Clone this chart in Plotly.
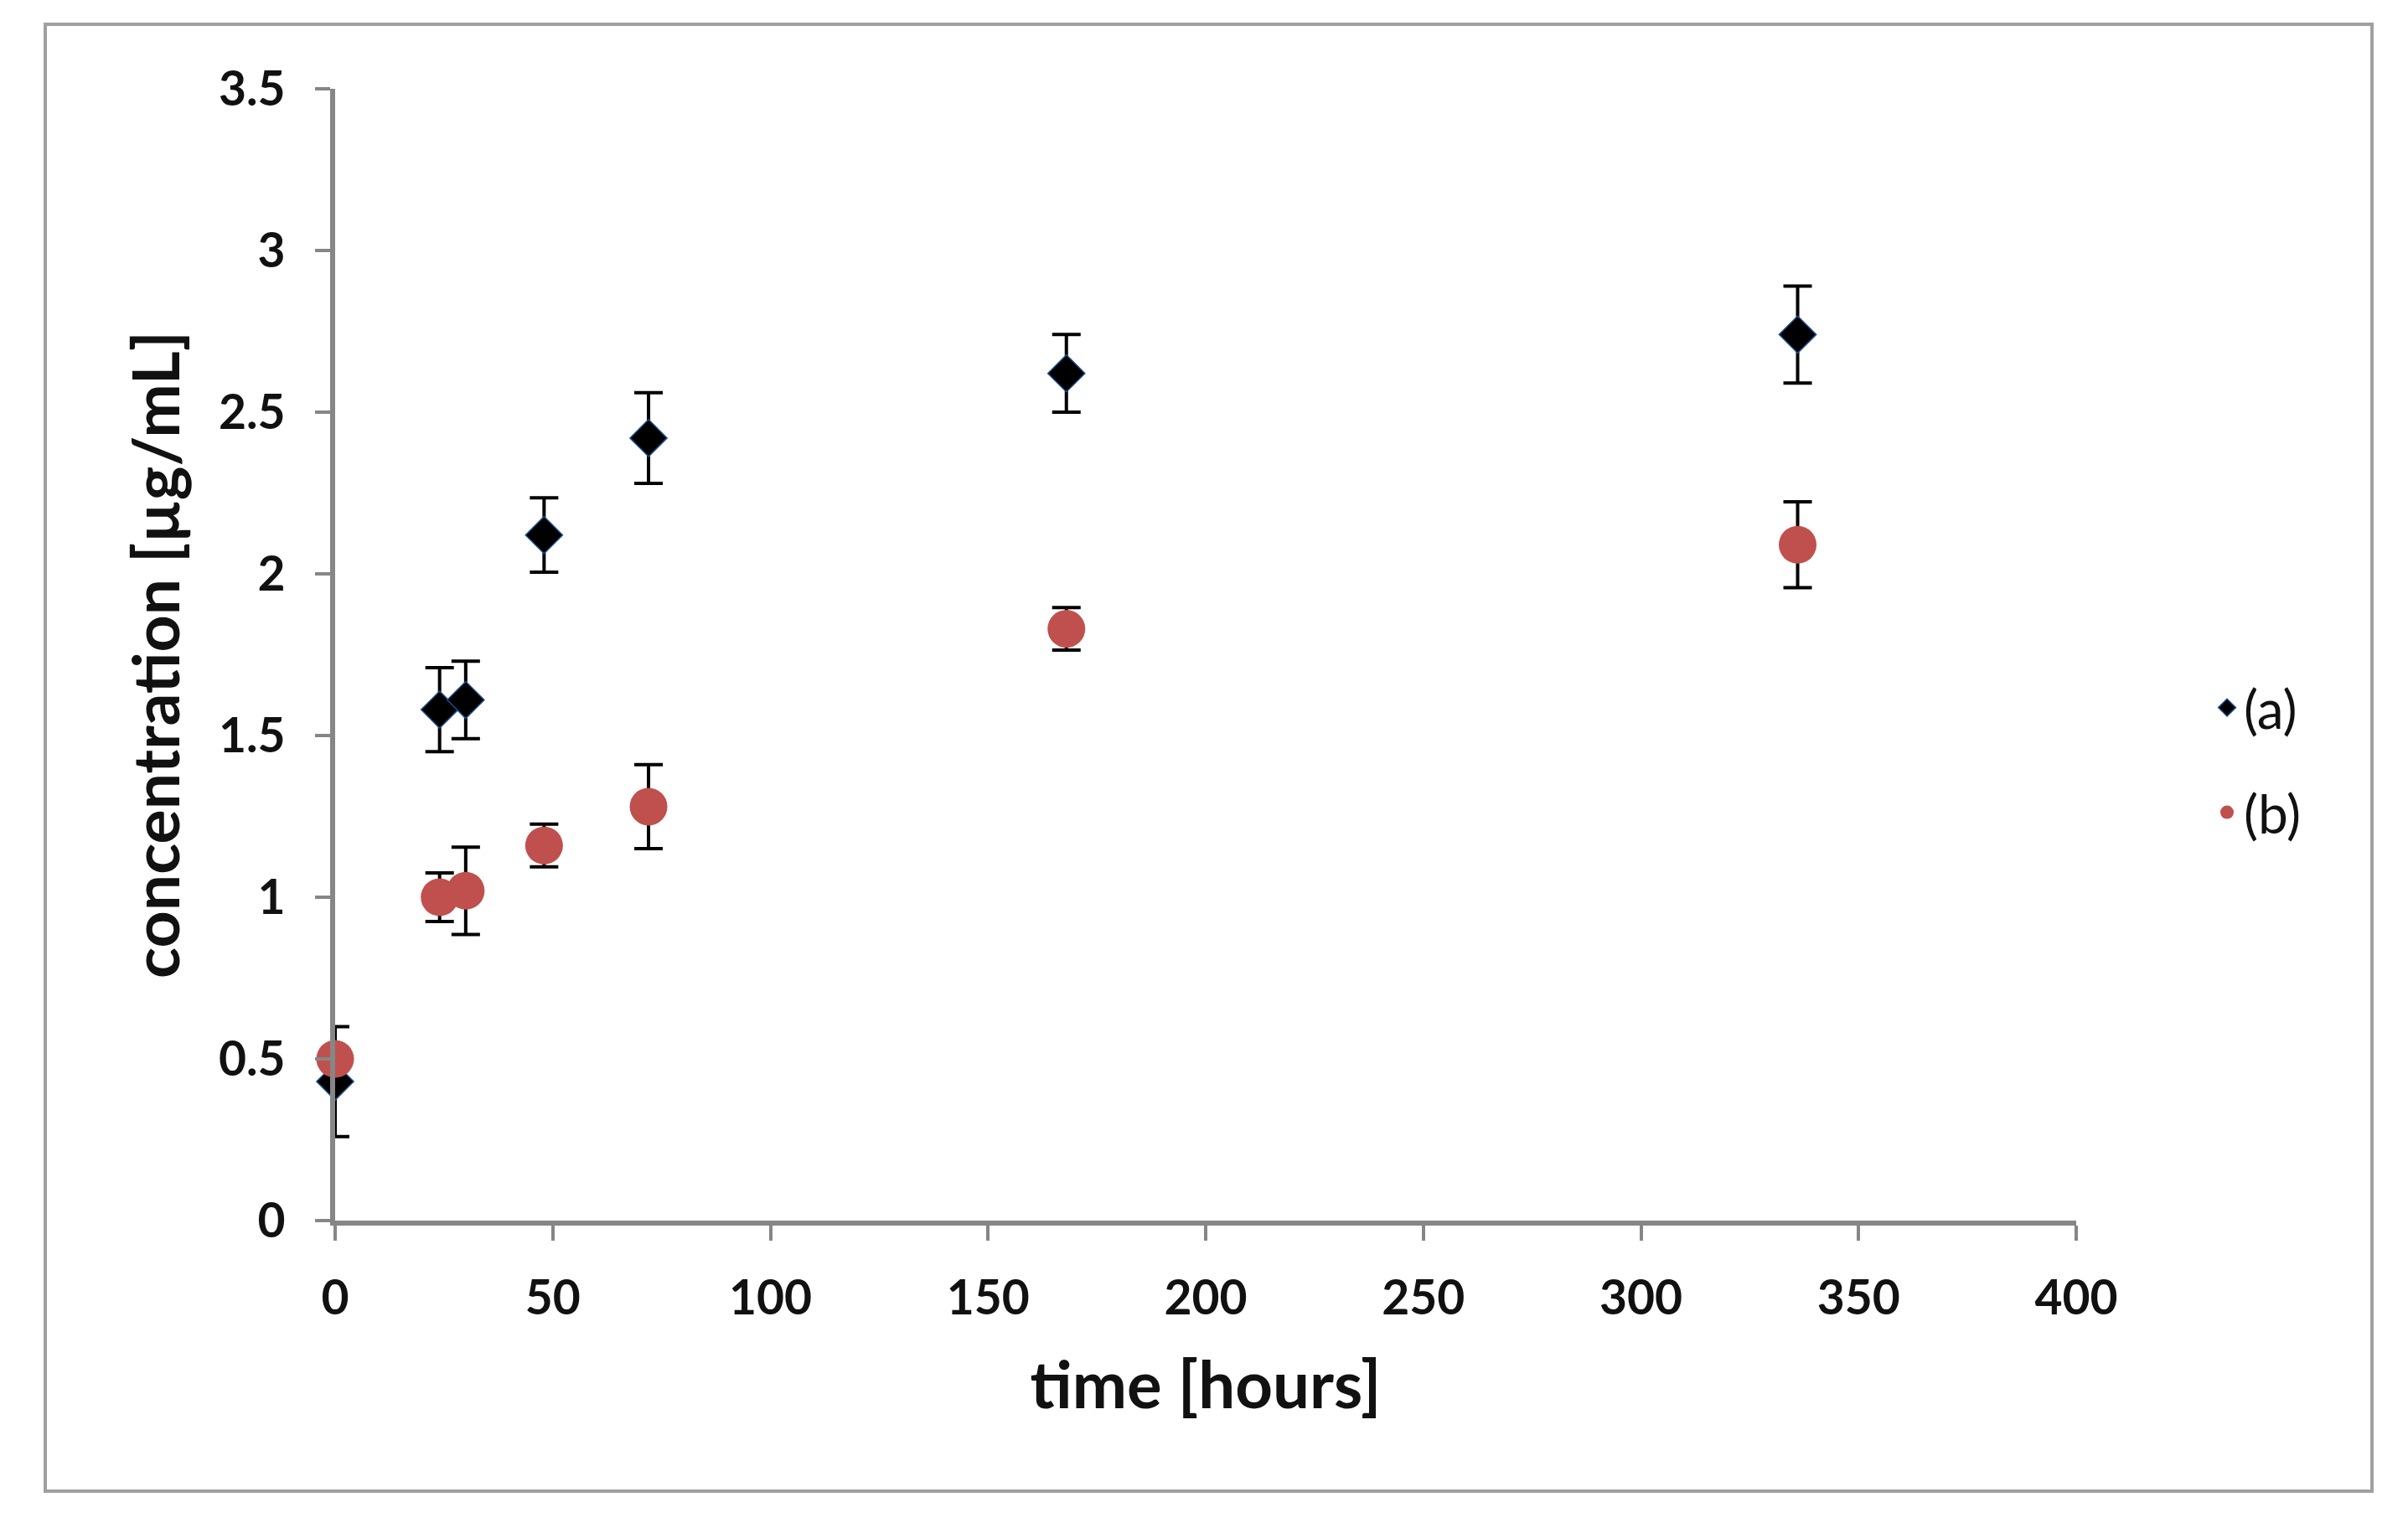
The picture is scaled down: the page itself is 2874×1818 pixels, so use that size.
import plotly.graph_objects as go

# ---- data ----
time_h = [0, 24, 30, 48, 72, 168, 336]
conc_a = [0.43, 1.58, 1.61, 2.12, 2.42, 2.62, 2.74]
err_a = [0.17, 0.13, 0.12, 0.115, 0.14, 0.12, 0.15]
conc_b = [0.50, 1.00, 1.02, 1.16, 1.28, 1.83, 2.09]
err_b = [0.0, 0.075, 0.135, 0.066, 0.13, 0.066, 0.133]

x_ticks = [0, 50, 100, 150, 200, 250, 300, 350, 400]
y_ticks = [0, 0.5, 1, 1.5, 2, 2.5, 3, 3.5]

W, H = 2874, 1818
OFF = 8  # page body margin offset
L, R, T, B = 400 - OFF, 2478 - OFF, 106 - OFF, 1457 - OFF  # plot area in pixels
pw, ph = R - L, B - T

FONT = "Lato"
AXIS_GRAY = "#868686"

fig = go.Figure()

fig.add_trace(go.Scatter(
    x=time_h, y=conc_a, name="(a)", mode="markers",
    marker=dict(symbol="diamond", size=34, color="#000000",
                line=dict(color="#1f4e8c", width=1.5)),
    error_y=dict(type="data", array=err_a, visible=True,
                 color="#000000", thickness=4, width=17),
    cliponaxis=False, legend="legend",
))
fig.add_trace(go.Scatter(
    x=time_h, y=conc_b, name="(b)", mode="markers",
    marker=dict(symbol="circle", size=45, color="#c0504d",
                line=dict(color="#c0504d", width=0)),
    error_y=dict(type="data", array=err_b, visible=True,
                 color="#000000", thickness=4, width=17),
    cliponaxis=False, legend="legend2",
))

def px2paper_x(px):
    return (px - OFF - L) / pw

def px2paper_y(py):
    return (B - (py - OFF)) / ph

# outer frame
fig.add_shape(type="rect", xref="paper", yref="paper",
              x0=px2paper_x(54), x1=px2paper_x(2831),
              y0=px2paper_y(1780), y1=px2paper_y(29),
              line=dict(color="#a0a0a0", width=4), fillcolor="rgba(0,0,0,0)",
              layer="below")

axis_common = dict(
    showgrid=False, zeroline=False, showline=True,
    linecolor=AXIS_GRAY, linewidth=6,
    ticks="outside", ticklen=18, tickwidth=4, tickcolor=AXIS_GRAY,
    tickfont=dict(family=FONT, size=57, color="#111111", weight="bold"),
)

fig.update_layout(
    width=W, height=H,
    margin=dict(l=L, r=W - R, t=T, b=H - B, autoexpand=False),
    paper_bgcolor="white", plot_bgcolor="white",
    font=dict(family=FONT, color="#111111"),
    xaxis=dict(range=[0, 400], tickmode="array", tickvals=x_ticks,
               ticklabelstandoff=20,
               title=dict(text="time [hours]", standoff=48,
                          font=dict(family=FONT, size=78, color="#111111", weight="bold")),
               **axis_common),
    yaxis=dict(range=[0, 3.5], tickmode="array", tickvals=y_ticks,
               ticktext=[f"{v:g}" for v in y_ticks],
               ticklabelstandoff=24,
               title=dict(text="concentration [µg/mL]", standoff=23,
                          font=dict(family=FONT, size=77, color="#111111", weight="bold")),
               **axis_common),
    legend=dict(x=px2paper_x(2638), y=px2paper_y(845), xanchor="left", yanchor="middle",
                font=dict(family=FONT, size=64, color="#111111"),
                bgcolor="rgba(0,0,0,0)", itemwidth=30),
    legend2=dict(x=px2paper_x(2638), y=px2paper_y(970), xanchor="left", yanchor="middle",
                 font=dict(family=FONT, size=64, color="#111111"),
                 bgcolor="rgba(0,0,0,0)", itemwidth=30),
    showlegend=True,
)

fig.write_html("out.html")
